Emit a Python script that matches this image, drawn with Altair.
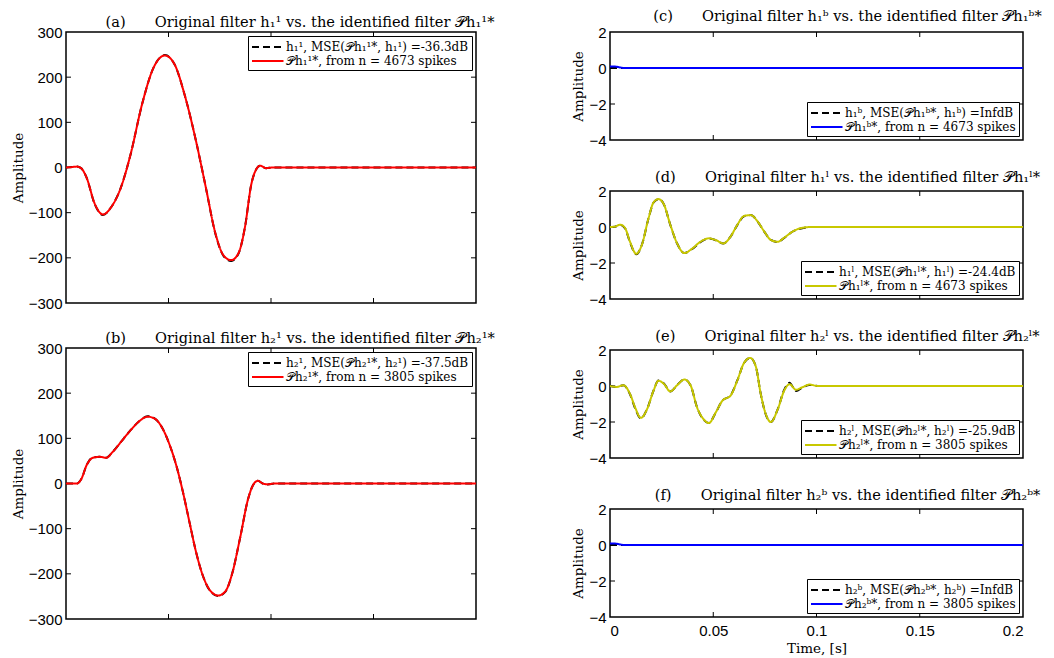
import altair as alt
import pandas as pd

# ---------------- data ----------------
A_T = [0, 0.003, 0.0053, 0.0075, 0.010, 0.014, 0.018, 0.022, 0.0268, 0.0315, 0.0371, 0.0427, 0.0482,
       0.053, 0.0578, 0.0634, 0.0682, 0.0729, 0.0769, 0.0806, 0.0841, 0.0873, 0.0904, 0.0928, 0.0947,
       0.0976, 0.1008, 0.15, 0.2]
A_ORIG = [0, 1, 2, -2, -22, -81, -105, -88, -44, 29, 140, 221, 249, 228, 162, 59, -44, -147, -196,
          -207, -191, -132, -37, -4, 4, -1.5, 0, 0, 0]
A_IDENT = [0, 1, 2, -2, -22, -80, -104, -88, -44, 29, 140, 221, 248, 228, 162, 59, -44, -146, -195,
           -205, -190, -132, -37, -4, 4, -1.5, 0, 0, 0]

B_T = [0, 0.0053, 0.0076, 0.0100, 0.0132, 0.0164, 0.0196, 0.0228, 0.0268, 0.0315, 0.0363, 0.0398,
       0.0435, 0.0467, 0.0506, 0.0538, 0.0570, 0.0602, 0.0634, 0.0666, 0.0705, 0.0742, 0.0777, 0.0809,
       0.0849, 0.0889, 0.0912, 0.0936, 0.0960, 0.0984, 0.1016, 0.15, 0.2]
B_ORIG = [0, 0, 11, 40, 58, 59, 57, 70, 92, 118, 140, 149, 143, 125, 85, 40, -18, -85, -151, -202,
          -239, -249, -240, -202, -121, -33, -4, 6, 0, -2, 0, 0, 0]
B_IDENT = [0, 0, 11, 40, 57, 59, 57, 70, 92, 118, 140, 148, 143, 125, 85, 40, -18, -85, -151, -202,
           -238, -248, -239, -202, -121, -33, -4, 6, 0, -2, 0, 0, 0]

C_T_ORIG = [0, 0.2]
C_ORIG = [0, 0]
C_T = [0, 0.002, 0.004, 0.007, 0.2]
C_IDENT = [0.08, 0.09, 0.05, 0, 0]

D_T = [0, 0.0024, 0.0049, 0.0073, 0.0097, 0.0127, 0.0154, 0.0187, 0.0211, 0.0235, 0.026, 0.0292,
       0.0325, 0.036, 0.0398, 0.0438, 0.0479, 0.0511, 0.0549, 0.0584, 0.0617, 0.0649, 0.0682, 0.0714,
       0.0747, 0.0779, 0.0812, 0.0844, 0.0885, 0.0925, 0.0974, 0.15, 0.2]
D_ORIG = [0, 0.02, 0.12, -0.08, -0.85, -1.52, -1.0, 0.5, 1.36, 1.55, 1.28, 0.12, -0.92, -1.45, -1.22,
          -0.84, -0.64, -0.73, -0.92, -0.53, 0.12, 0.6, 0.66, 0.32, -0.26, -0.72, -0.83, -0.6, -0.25,
          -0.08, 0, 0, 0]
D_IDENT = [0, 0.02, 0.13, -0.06, -0.82, -1.49, -1.0, 0.51, 1.37, 1.55, 1.28, 0.13, -0.91, -1.45, -1.2,
           -0.82, -0.63, -0.72, -0.91, -0.53, 0.13, 0.61, 0.66, 0.32, -0.25, -0.72, -0.82, -0.59, -0.25,
           -0.06, 0, 0, 0]

E_T = [0, 0.0032, 0.0065, 0.0097, 0.0122, 0.0149, 0.0179, 0.0211, 0.0235, 0.026, 0.0292, 0.0325,
       0.036, 0.039, 0.0422, 0.0455, 0.0479, 0.0511, 0.0544, 0.0584, 0.0617, 0.0649, 0.0679, 0.0706,
       0.073, 0.0755, 0.0779, 0.0812, 0.0844, 0.0869, 0.0901, 0.0933, 0.0966, 0.1006, 0.15, 0.2]
E_ORIG = [0, -0.05, 0.04, -0.46, -1.25, -1.8, -1.3, -0.25, 0.3, 0.15, -0.3, 0.05, 0.37, 0.04, -1.2,
          -1.9, -2.06, -1.5, -0.82, -0.52, 0.32, 1.28, 1.56, 1.09, -0.44, -1.6, -2.0, -1.3, -0.2, 0.18,
          -0.28, -0.08, 0.06, 0, 0, 0]
E_IDENT = [0, -0.05, 0.04, -0.44, -1.2, -1.77, -1.3, -0.25, 0.29, 0.13, -0.3, 0.04, 0.36, 0.04, -1.2,
           -1.87, -2.06, -1.49, -0.82, -0.53, 0.32, 1.28, 1.56, 1.09, -0.44, -1.58, -2.0, -1.3, -0.25,
           0.1, -0.21, -0.06, 0.08, 0, 0, 0]

F_T_ORIG = [0, 0.2]
F_ORIG = [0, 0]
F_T = [0, 0.002, 0.004, 0.007, 0.2]
F_IDENT = [0.08, 0.09, 0.05, 0, 0]

GAP = "\u2003\u2003"
TITLES = [
    f"(a){GAP}Original filter h₁¹ vs. the identified filter 𝒫h₁¹*",
    f"(b){GAP}Original filter h₂¹ vs. the identified filter 𝒫h₂¹*",
    f"(c){GAP}Original filter h₁ᵇ vs. the identified filter 𝒫h₁ᵇ*",
    f"(d){GAP}Original filter h₁ˡ vs. the identified filter 𝒫h₁ˡ*",
    f"(e){GAP}Original filter h₂ˡ vs. the identified filter 𝒫h₂ˡ*",
    f"(f){GAP}Original filter h₂ᵇ vs. the identified filter 𝒫h₂ᵇ*",
]
LEGENDS = [
    ["h₁¹, MSE(𝒫h₁¹*, h₁¹) =-36.3dB", "𝒫h₁¹*, from n = 4673 spikes"],
    ["h₂¹, MSE(𝒫h₂¹*, h₂¹) =-37.5dB", "𝒫h₂¹*, from n = 3805 spikes"],
    ["h₁ᵇ, MSE(𝒫h₁ᵇ*, h₁ᵇ) =InfdB", "𝒫h₁ᵇ*, from n = 4673 spikes"],
    ["h₁ˡ, MSE(𝒫h₁ˡ*, h₁ˡ) =-24.4dB", "𝒫h₁ˡ*, from n = 4673 spikes"],
    ["h₂ˡ, MSE(𝒫h₂ˡ*, h₂ˡ) =-25.9dB", "𝒫h₂ˡ*, from n = 3805 spikes"],
    ["h₂ᵇ, MSE(𝒫h₂ᵇ*, h₂ᵇ) =InfdB", "𝒫h₂ᵇ*, from n = 3805 spikes"],
]
COLORS = ["#ff0000", "#ff0000", "#0000ff", "#c8c800", "#c8c800", "#0000ff"]

X_TICKS = [0, 0.05, 0.1, 0.15, 0.2]
X_INNER = [0.05, 0.1, 0.15]
Y_TICKS_BIG = [-300, -200, -100, 0, 100, 200, 300]
Y_INNER_BIG = [-200, -100, 0, 100, 200]
Y_TICKS_SMALL = [-4, -2, 0, 2]
Y_INNER_SMALL = [-2, 0]

SERIF = "DejaVu Serif"
SANS = "Liberation Sans"


def make_df(t_o, y_o, t_i, y_i, labels):
    return pd.concat([
        pd.DataFrame({"t": t_o, "y": y_o, "s": labels[0]}),
        pd.DataFrame({"t": t_i, "y": y_i, "s": labels[1]}),
    ], ignore_index=True)


def panel(df, labels, color, ydom, yticks, yinner, W, H, title, legend_orient, show_x, tdx, toff):
    xs = alt.Scale(domain=[0, 0.2], nice=False, zero=False)
    ys = alt.Scale(domain=ydom, nice=False, zero=False)
    if show_x:
        xaxis = alt.Axis(values=X_TICKS, format="~r", ticks=False, domain=False, grid=False,
                         labelPadding=6, title="Time, [s]", titlePadding=3)
    else:
        xaxis = None
    yaxis = alt.Axis(values=yticks, format="d", ticks=False, domain=False, grid=False,
                     labelPadding=4, title="Amplitude", titlePadding=3)
    leg = alt.Legend(title=None, orient=legend_orient, offset=4, labelLimit=400)
    lines = alt.Chart(df).mark_line(interpolate="monotone", strokeWidth=2, clip=True).encode(
        x=alt.X("t:Q", scale=xs, axis=xaxis),
        y=alt.Y("y:Q", scale=ys, axis=yaxis),
        color=alt.Color("s:N", scale=alt.Scale(domain=labels, range=["black", color]), legend=leg),
        strokeDash=alt.StrokeDash("s:N", scale=alt.Scale(domain=labels, range=[[7, 4], [1, 0]]),
                                  legend=leg),
    )
    xt = pd.DataFrame({"t": X_INNER})
    yt = pd.DataFrame({"y": yinner})
    bt = alt.Chart(xt).mark_rule(color="black", strokeWidth=1).encode(
        x=alt.X("t:Q", scale=xs, axis=xaxis), y=alt.value(H), y2=alt.value(H - 5))
    tt = alt.Chart(xt).mark_rule(color="black", strokeWidth=1).encode(
        x=alt.X("t:Q", scale=xs, axis=xaxis), y=alt.value(0), y2=alt.value(5))
    lt = alt.Chart(yt).mark_rule(color="black", strokeWidth=1).encode(
        y=alt.Y("y:Q", scale=ys, axis=yaxis), x=alt.value(0), x2=alt.value(5))
    rt = alt.Chart(yt).mark_rule(color="black", strokeWidth=1).encode(
        y=alt.Y("y:Q", scale=ys, axis=yaxis), x=alt.value(W - 5), x2=alt.value(W))
    return alt.layer(bt, tt, lt, rt, lines).properties(
        width=W, height=H,
        title=alt.TitleParams(title, font=SERIF, fontSize=14.6, fontWeight="normal", offset=toff,
                              anchor="middle", color="black", dx=tdx),
    )


WL, HL = 410, 271
WR, HR = 413, 108

pa = panel(make_df(A_T, A_ORIG, A_T, A_IDENT, LEGENDS[0]), LEGENDS[0], COLORS[0],
           [-300, 300], Y_TICKS_BIG, Y_INNER_BIG, WL, HL, TITLES[0], "top-right", False, 29, -5)
pb = panel(make_df(B_T, B_ORIG, B_T, B_IDENT, LEGENDS[1]), LEGENDS[1], COLORS[1],
           [-300, 300], Y_TICKS_BIG, Y_INNER_BIG, WL, HL, TITLES[1], "top-right", False, 29, -5)
pc = panel(make_df(C_T_ORIG, C_ORIG, C_T, C_IDENT, LEGENDS[2]), LEGENDS[2], COLORS[2],
           [-4, 2], Y_TICKS_SMALL, Y_INNER_SMALL, WR, HR, TITLES[2], "bottom-right", False, 31, 1)
pd_ = panel(make_df(D_T, D_ORIG, D_T, D_IDENT, LEGENDS[3]), LEGENDS[3], COLORS[3],
            [-4, 2], Y_TICKS_SMALL, Y_INNER_SMALL, WR, HR, TITLES[3], "bottom-right", False, 31, -1)
pe = panel(make_df(E_T, E_ORIG, E_T, E_IDENT, LEGENDS[4]), LEGENDS[4], COLORS[4],
           [-4, 2], Y_TICKS_SMALL, Y_INNER_SMALL, WR, HR, TITLES[4], "bottom-right", False, 31, -1)
pf = panel(make_df(F_T_ORIG, F_ORIG, F_T, F_IDENT, LEGENDS[5]), LEGENDS[5], COLORS[5],
           [-4, 2], Y_TICKS_SMALL, Y_INNER_SMALL, WR, HR, TITLES[5], "bottom-right", True, 31, -1)

left = alt.vconcat(pa, pb, spacing=18).resolve_scale(color="independent", strokeDash="independent")
right = alt.vconcat(pc, pd_, pe, pf, spacing=20).resolve_scale(color="independent",
                                                                strokeDash="independent")

chart = alt.hconcat(left, right, spacing=75).resolve_scale(
    color="independent", strokeDash="independent"
).properties(
    padding={"left": 2, "top": 0, "right": 0, "bottom": 0}
).configure_view(
    stroke="black", strokeWidth=1.5
).configure_axis(
    labelFont=SANS, labelFontSize=15, labelColor="black",
    titleFont=SERIF, titleFontSize=13.5, titleFontWeight="normal", titleColor="black",
).configure_legend(
    labelFont=SERIF, labelFontSize=12, labelColor="black",
    strokeColor="black", fillColor="white", padding=3, rowPadding=0, cornerRadius=0,
    symbolType="M-1,0H3.5", symbolSize=196, symbolStrokeWidth=2, labelOffset=19,
)

chart.save("out.html", embed_options={"renderer": "svg", "actions": False})
